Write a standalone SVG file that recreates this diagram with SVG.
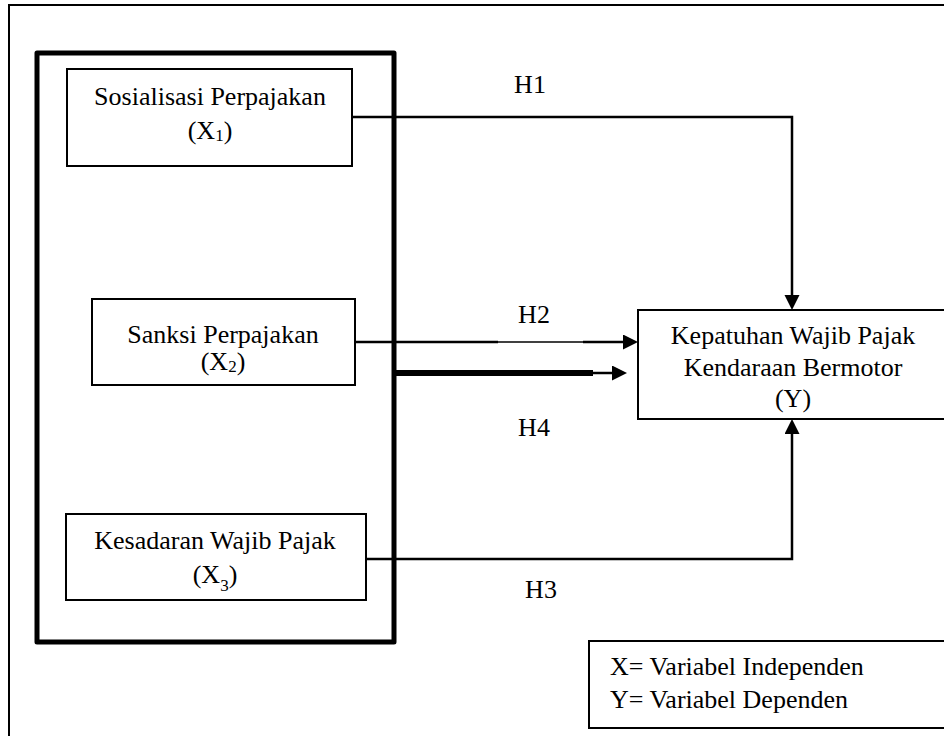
<svg xmlns="http://www.w3.org/2000/svg" width="944" height="736" viewBox="0 0 944 736" font-family="'Liberation Serif', 'Times New Roman', 'DejaVu Serif', serif">
<defs>
<style>
.box{fill:#fff;stroke:#000;stroke-width:2}
text{font-family:'Liberation Serif', 'Times New Roman', 'DejaVu Serif', serif;font-size:26px;fill:#000}
.t{text-anchor:middle}
.sub{font-size:17px}
.c{fill:none;stroke:#000;stroke-width:2.5}
</style>
<marker id="ah" markerUnits="userSpaceOnUse" markerWidth="16" markerHeight="16" refX="0" refY="7.5" orient="auto">
<polygon points="0,0 15,7.5 0,15" fill="#000"/>
</marker>
</defs>
<rect width="944" height="736" fill="#fff"/>
<rect x="9" y="5" width="945" height="745" fill="none" stroke="#000" stroke-width="2"/>
<rect x="37" y="53" width="357" height="589" fill="none" stroke="#000" stroke-width="5" stroke-linejoin="round"/>

<g id="x1">
<rect class="box" x="67" y="69" width="285" height="97"/>
<text class="t" x="210" y="105">Sosialisasi Perpajakan</text>
<text class="t" x="210" y="139">(X<tspan class="sub" dy="2">1</tspan><tspan dy="-2">)</tspan></text>
</g>
<g id="x2">
<rect class="box" x="92" y="299" width="263" height="86"/>
<text class="t" x="223" y="343">Sanksi Perpajakan</text>
<text class="t" x="223" y="370">(X<tspan class="sub" dy="2">2</tspan><tspan dy="-2">)</tspan></text>
</g>
<g id="x3">
<rect class="box" x="66" y="514" width="300" height="86"/>
<text class="t" x="215" y="549">Kesadaran Wajib Pajak</text>
<text class="t" x="215" y="583">(X<tspan class="sub" dy="8">3</tspan><tspan dy="-8">)</tspan></text>
</g>
<g id="y">
<rect class="box" x="638" y="310" width="312" height="109"/>
<text class="t" x="793" y="344">Kepatuhan Wajib Pajak</text>
<text class="t" x="793" y="376">Kendaraan Bermotor</text>
<text class="t" x="793" y="407">(Y)</text>
</g>
<g id="legend">
<rect class="box" x="589" y="641" width="360" height="87"/>
<text x="610" y="675">X= Variabel Independen</text>
<text x="610" y="708">Y= Variabel Dependen</text>
</g>

<g id="connectors">
<path class="c" d="M352,117 H792 V295" marker-end="url(#ah)"/>
<path class="c" d="M355,342 H498"/>
<path d="M498,342 H583" fill="none" stroke="#000" stroke-width="1.5"/>
<path class="c" d="M583,342 H623" marker-end="url(#ah)"/>
<path d="M393,373 H593" fill="none" stroke="#000" stroke-width="6"/>
<path class="c" d="M593,373 H612" marker-end="url(#ah)"/>
<path class="c" d="M366,559 H792 V434" marker-end="url(#ah)"/>
</g>
<g id="labels">
<text class="t" x="530" y="93">H1</text>
<text class="t" x="534" y="323">H2</text>
<text class="t" x="534" y="436">H4</text>
<text class="t" x="541" y="598">H3</text>
</g>
</svg>
